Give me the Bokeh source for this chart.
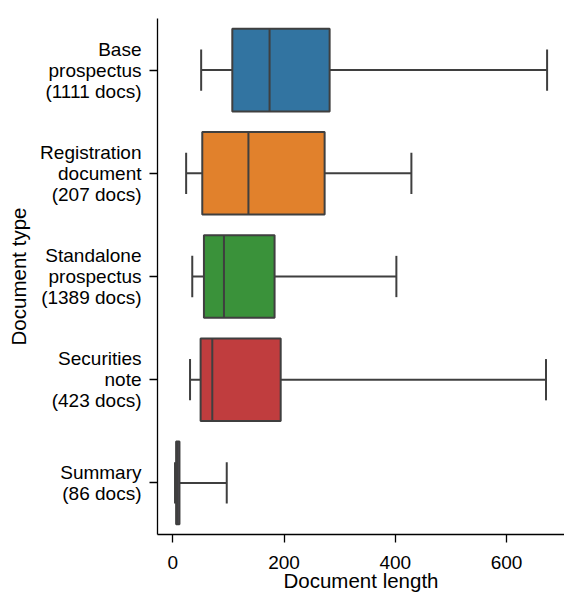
from bokeh.plotting import figure
from bokeh.models import Range1d, FixedTicker, ColumnDataSource
from bokeh.embed import file_html
from bokeh.resources import INLINE

# Document-length distribution per document type (box-plot summary statistics)
doc_types = ["Base\nprospectus\n(1111 docs)",
             "Registration\ndocument\n(207 docs)",
             "Standalone\nprospectus\n(1389 docs)",
             "Securities\nnote\n(423 docs)",
             "Summary\n(86 docs)"]
whisker_low = [51, 24, 35, 31, 4]
q1 = [107, 53, 56, 50, 6]
median = [174, 136, 92, 71, 9]
q3 = [282, 273, 183, 194, 12]
whisker_high = [673, 429, 402, 671, 97]
colors = ["#3274a1", "#e1812c", "#3a923a", "#c03d3e", "#9372b2"]
x_ticks = [0, 200, 400, 600]

FONT = "Liberation Sans"
TICK_SIZE = "19px"
LABEL_SIZE = "20.5px"
EDGE = "#3f3f3f"
pos = list(range(len(doc_types)))

src = ColumnDataSource(dict(
    y=pos, lo=whisker_low, q1=q1, med=median, q3=q3, hi=whisker_high,
    color=colors[:len(pos)],
    box_top=[i - 0.4 for i in pos], box_bot=[i + 0.4 for i in pos],
    cap_top=[i - 0.2 for i in pos], cap_bot=[i + 0.2 for i in pos],
))

x_start, x_end = -27.5, 704.3
p = figure(width=564, height=594, output_backend="svg", toolbar_location=None,
           x_range=Range1d(x_start, x_end), y_range=Range1d(4.5, -0.5),
           min_border_left=157, min_border_right=0, min_border_top=18,
           min_border_bottom=50)
p.outline_line_color = None
p.xgrid.visible = False
p.ygrid.visible = False

# whiskers
p.segment(x0="lo", x1="q1", y0="y", y1="y", source=src, line_color=EDGE, line_width=2)
p.segment(x0="q3", x1="hi", y0="y", y1="y", source=src, line_color=EDGE, line_width=2)
# caps
p.segment(x0="lo", x1="lo", y0="cap_top", y1="cap_bot", source=src, line_color=EDGE, line_width=2)
p.segment(x0="hi", x1="hi", y0="cap_top", y1="cap_bot", source=src, line_color=EDGE, line_width=2)
# boxes
p.hbar(y="y", left="q1", right="q3", height=0.8, source=src,
       fill_color="color", line_color=EDGE, line_width=2)
# medians
p.segment(x0="med", x1="med", y0="box_top", y1="box_bot", source=src, line_color=EDGE, line_width=2)

# axes
p.xaxis.ticker = FixedTicker(ticks=x_ticks)
p.yaxis.ticker = FixedTicker(ticks=pos)
p.yaxis.major_label_overrides = {i: t for i, t in enumerate(doc_types)}
p.xaxis.axis_label = "Document length"
p.yaxis.axis_label = "Document type"

for ax in (p.xaxis[0], p.yaxis[0]):
    ax.axis_line_color = "black"
    ax.axis_line_width = 1.3
    ax.major_tick_line_color = "black"
    ax.major_tick_line_width = 1.3
    ax.major_tick_out = 8
    ax.major_tick_in = 0
    ax.minor_tick_line_color = None
    ax.major_label_text_font = FONT
    ax.major_label_text_font_size = TICK_SIZE
    ax.major_label_text_color = "black"
    ax.axis_label_text_font = FONT
    ax.axis_label_text_font_size = LABEL_SIZE
    ax.axis_label_text_font_style = "normal"
    ax.axis_label_text_color = "black"

p.xaxis.major_label_standoff = 13
p.xaxis.axis_label_standoff = -3
p.yaxis.major_label_standoff = 8
p.yaxis.major_label_text_align = "right"
p.yaxis.major_label_text_line_height = 1.0
p.yaxis.axis_label_standoff = 7

open("out.html", "w").write(file_html(p, INLINE))
